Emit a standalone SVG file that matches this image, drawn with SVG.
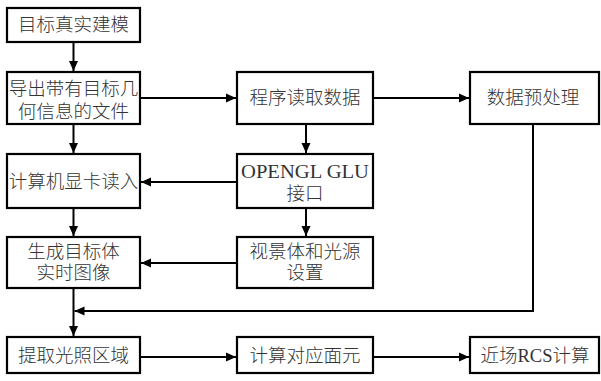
<svg xmlns="http://www.w3.org/2000/svg" width="601" height="381" viewBox="0 0 601 381">
<defs>
<style>
.box{fill:#fff;stroke:#000;stroke-width:2.2}
.t{font-family:"Liberation Serif","Noto Sans CJK SC",serif;font-size:18.5px;font-weight:300;fill:#333;text-anchor:middle;dominant-baseline:central}
.c{fill:none;stroke:#000;stroke-width:2}
</style>
<marker id="ah" viewBox="0 0 10 10" refX="10" refY="5" markerWidth="10" markerHeight="10" markerUnits="userSpaceOnUse" orient="auto">
<path d="M0,0.5 L10,5 L0,9.5 Z" fill="#000"/>
</marker>
</defs>
<rect width="601" height="381" fill="#fff"/>
<g id="connectors">
<line class="c" x1="73.5" y1="42" x2="73.5" y2="71" marker-end="url(#ah)"/>
<line class="c" x1="73.5" y1="124" x2="73.5" y2="153" marker-end="url(#ah)"/>
<line class="c" x1="73.5" y1="208" x2="73.5" y2="236" marker-end="url(#ah)"/>
<line class="c" x1="73.5" y1="288" x2="73.5" y2="336" marker-end="url(#ah)"/>
<line class="c" x1="140" y1="98" x2="236" y2="98" marker-end="url(#ah)"/>
<line class="c" x1="373" y1="98" x2="469" y2="98" marker-end="url(#ah)"/>
<line class="c" x1="306" y1="124" x2="306" y2="153" marker-end="url(#ah)"/>
<line class="c" x1="306" y1="208" x2="306" y2="236" marker-end="url(#ah)"/>
<line class="c" x1="237" y1="182" x2="141" y2="182" marker-end="url(#ah)"/>
<line class="c" x1="237" y1="263" x2="141" y2="263" marker-end="url(#ah)"/>
<polyline class="c" points="533,124 533,311 74.5,311" marker-end="url(#ah)"/>
<line class="c" x1="140" y1="357" x2="236" y2="357" marker-end="url(#ah)"/>
<line class="c" x1="373" y1="357" x2="469" y2="357" marker-end="url(#ah)"/>
</g>
<g id="n1"><rect class="box" x="7" y="8" width="133" height="34"/><text class="t" x="73.5" y="25">目标真实建模</text></g>
<g id="n2"><rect class="box" x="7" y="72" width="133" height="52"/><text class="t" x="73.5" y="89">导出带有目标几</text><text class="t" x="73.5" y="112">何信息的文件</text></g>
<g id="n3"><rect class="box" x="237" y="72" width="136" height="52"/><text class="t" x="305" y="98">程序读取数据</text></g>
<g id="n4"><rect class="box" x="470" y="72" width="129" height="52"/><text class="t" x="533" y="98">数据预处理</text></g>
<g id="n5"><rect class="box" x="237" y="154" width="136" height="54"/><text class="t" x="305" y="172" textLength="128" lengthAdjust="spacingAndGlyphs">OPENGL GLU</text><text class="t" x="305" y="194">接口</text></g>
<g id="n6"><rect class="box" x="7" y="154" width="133" height="54"/><text class="t" x="73.5" y="182">计算机显卡读入</text></g>
<g id="n7"><rect class="box" x="7" y="237" width="133" height="51"/><text class="t" x="73.5" y="252">生成目标体</text><text class="t" x="73.5" y="273">实时图像</text></g>
<g id="n8"><rect class="box" x="237" y="237" width="136" height="51"/><text class="t" x="305" y="252">视景体和光源</text><text class="t" x="305" y="273">设置</text></g>
<g id="n9"><rect class="box" x="7" y="337" width="133" height="36"/><text class="t" x="73.5" y="356">提取光照区域</text></g>
<g id="n10"><rect class="box" x="237" y="337" width="136" height="36"/><text class="t" x="305" y="356">计算对应面元</text></g>
<g id="n11"><rect class="box" x="470" y="337" width="129" height="36"/><text class="t" x="535" y="356">近场RCS计算</text></g>
</svg>
